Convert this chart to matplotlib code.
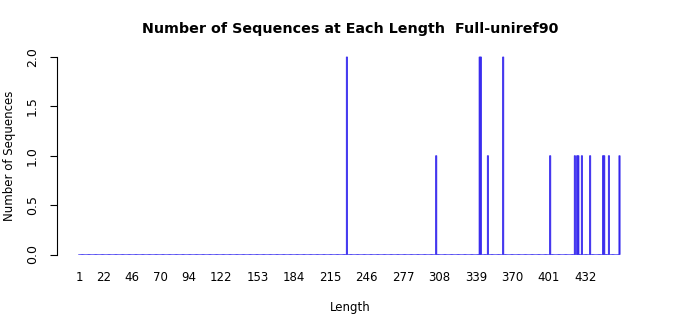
import numpy as np
import matplotlib
matplotlib.use("Agg")
import matplotlib.pyplot as plt

# Data
bar_lengths = [229, 305, 342, 343, 349, 362, 402, 423, 425, 426, 429, 436, 447, 448, 452, 461]
bar_counts  = [2,   1,   2,   2,   1,   2,   1,   1,   1,   1,   1,   1,   1,   1,   1,   1]
max_length = 461
tick_labels = ["1", "22", "46", "70", "94", "122", "153", "184", "215", "246",
               "277", "308", "339", "370", "401", "432"]
y_ticks = [0.0, 0.5, 1.0, 1.5, 2.0]

lengths = np.arange(1, max_length + 1)
counts = np.zeros(max_length)
for L, c in zip(bar_lengths, bar_counts):
    counts[L - 1] = c

W, H = 700, 315
fig = plt.figure(figsize=(W / 100, H / 100), dpi=100)
ax_left, ax_right, ax_top, ax_bot = 57, 640, 57, 254.5
ax = fig.add_axes([ax_left / W, 1 - ax_bot / H, (ax_right - ax_left) / W, (ax_bot - ax_top) / H])

px_per = 1.175
x0 = 1 + (ax_left - 79) / px_per
x1 = 1 + (ax_right - 79) / px_per

col = "#2f10e6"
ax.bar(lengths, counts, width=1.0, color=col, edgecolor="#3a30f0", linewidth=0.6,
       align="center", clip_on=False, snap=False)

ax.set_xlim(x0, x1)
ax.set_ylim(0, 2)

for s in ["top", "right", "bottom"]:
    ax.spines[s].set_visible(False)
ax.spines["left"].set_bounds(0, 2)
ax.spines["left"].set_linewidth(0.8)

ax.set_yticks(y_ticks)
ax.set_yticklabels([f"{v:.1f}" for v in y_ticks], rotation=90, va="center", fontsize=9)
ax.tick_params(axis="y", length=5, width=0.8, pad=8)

ax.set_xticks([int(t) for t in tick_labels])
ax.set_xticklabels(tick_labels, fontsize=8.5)
ax.tick_params(axis="x", length=0, pad=12)

ax.set_ylabel("Number of Sequences", fontsize=8.5)
ax.yaxis.set_label_coords((9.5 - ax_left) / (ax_right - ax_left), 0.5)
ax.set_xlabel("Length", fontsize=8.5)
ax.xaxis.set_label_coords((350 - ax_left) / (ax_right - ax_left), (ax_bot - 307) / (ax_bot - ax_top))
ax.xaxis.label.set_va("center")
ax.yaxis.label.set_va("center")

fig.text(350 / W, 1 - 29 / H, "Number of Sequences at Each Length  Full-uniref90",
         ha="center", va="center", fontsize=10.25, fontweight="bold")

fig.savefig("out.png", dpi=100)
